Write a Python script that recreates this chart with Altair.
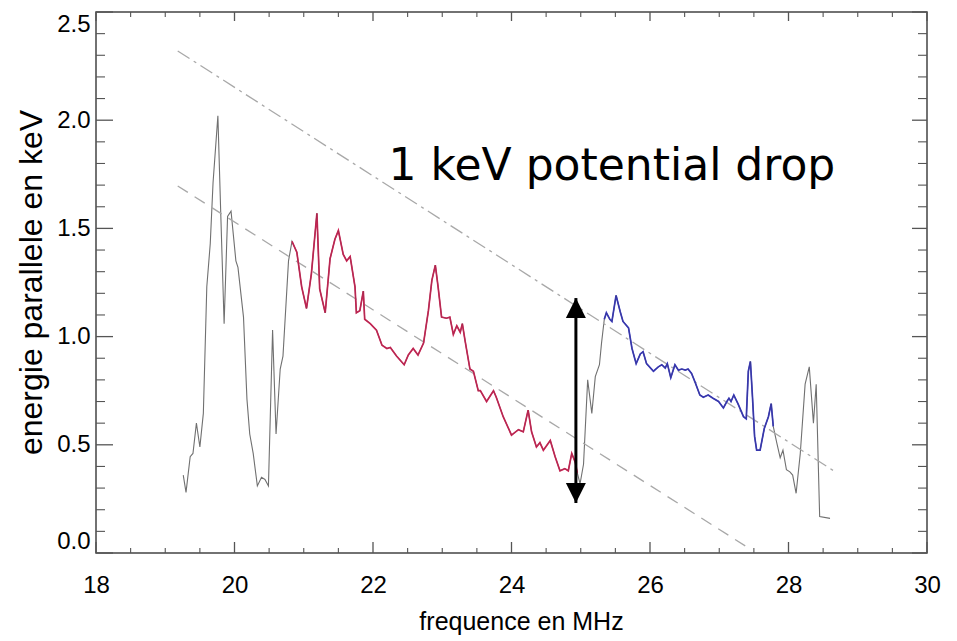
import altair as alt
import pandas as pd

# ---- main spectrum (frequency MHz, parallel energy keV) ----
freq = [19.26, 19.30, 19.36, 19.40, 19.45, 19.50, 19.55, 19.60, 19.65, 19.69,
        19.76, 19.80, 19.85, 19.90, 19.95, 20.02, 20.05, 20.13, 20.18, 20.22,
        20.27, 20.33, 20.39, 20.44, 20.49, 20.55, 20.60, 20.66, 20.70, 20.78,
        20.83, 20.90, 20.97, 21.04, 21.11, 21.19, 21.23, 21.31, 21.38, 21.45,
        21.50, 21.57, 21.62, 21.67, 21.74, 21.76, 21.81, 21.86, 21.88, 21.96,
        22.05, 22.13, 22.20, 22.25, 22.34, 22.45, 22.51, 22.58, 22.65, 22.73,
        22.80, 22.85, 22.90, 22.94, 22.99, 23.06, 23.11, 23.16, 23.21, 23.26,
        23.29, 23.33, 23.40, 23.45, 23.52, 23.55, 23.64, 23.74, 23.78, 23.88,
        24.00, 24.10, 24.17, 24.24, 24.29, 24.36, 24.41, 24.46, 24.56, 24.63,
        24.70, 24.77, 24.82, 24.87, 24.92, 24.95, 24.99, 25.04, 25.10, 25.16,
        25.21, 25.27, 25.30, 25.34, 25.37, 25.42, 25.45, 25.51, 25.57, 25.61,
        25.69, 25.74, 25.80, 25.86, 25.90, 25.95, 26.05, 26.12, 26.17, 26.22,
        26.25, 26.30, 26.36, 26.41, 26.46, 26.51, 26.55, 26.60, 26.65, 26.72,
        26.77, 26.84, 26.91, 26.99, 27.06, 27.11, 27.14, 27.17, 27.21, 27.27,
        27.35, 27.39, 27.42, 27.45, 27.48, 27.51, 27.54, 27.59, 27.65, 27.71,
        27.75, 27.78, 27.83, 27.88, 27.92, 27.97, 28.02, 28.06, 28.11, 28.17,
        28.24, 28.30, 28.36, 28.40, 28.45, 28.60]
energy = [0.36, 0.28, 0.445, 0.46, 0.60, 0.49, 0.645, 1.23, 1.43, 1.71,
          2.02, 1.585, 1.06, 1.555, 1.58, 1.35, 1.32, 1.09, 0.71, 0.55,
          0.46, 0.31, 0.35, 0.34, 0.31, 1.03, 0.55, 0.85, 0.91, 1.35,
          1.44, 1.39, 1.23, 1.13, 1.29, 1.57, 1.22, 1.11, 1.36, 1.45,
          1.49, 1.38, 1.35, 1.37, 1.23, 1.11, 1.12, 1.21, 1.08, 1.06,
          1.03, 0.96, 0.945, 0.95, 0.91, 0.87, 0.915, 0.945, 0.915, 0.97,
          1.12, 1.26, 1.33, 1.23, 1.09, 1.085, 1.09, 1.01, 1.05, 1.02,
          1.06, 0.98, 0.85, 0.84, 0.75, 0.75, 0.70, 0.75, 0.72, 0.63,
          0.545, 0.57, 0.56, 0.66, 0.56, 0.49, 0.51, 0.475, 0.52, 0.445,
          0.38, 0.39, 0.38, 0.46, 0.42, 0.37, 0.32, 0.41, 0.80, 0.645,
          0.815, 0.87, 0.97, 1.08, 1.11, 1.08, 1.07, 1.19, 1.115, 1.07,
          1.04, 0.945, 0.875, 0.92, 0.93, 0.875, 0.84, 0.86, 0.87, 0.855,
          0.875, 0.81, 0.87, 0.845, 0.85, 0.845, 0.85, 0.83, 0.79, 0.73,
          0.72, 0.73, 0.715, 0.70, 0.67, 0.70, 0.715, 0.70, 0.73, 0.69,
          0.63, 0.62, 0.84, 0.885, 0.72, 0.54, 0.475, 0.475, 0.575, 0.63,
          0.69, 0.585, 0.51, 0.44, 0.475, 0.385, 0.375, 0.36, 0.276, 0.46,
          0.78, 0.86, 0.60, 0.78, 0.168, 0.16]

red_range = [20.83, 24.95]
blue_range = [25.34, 27.78]

# ---- guide lines ----
upper_x = [19.18, 28.70]
upper_y = [2.32, 0.37]
lower_x = [19.18, 27.40]
lower_y = [1.696, 0.028]

# ---- arrow & annotation ----
arrow_x = [24.93]
arrow_bottom = [0.231]
arrow_top = [1.178]
note_x = [25.45]
note_y = [1.724]
note_text = ["1 keV potential drop"]

# ---- ticks ----
x_major = [18, 20, 22, 24, 26, 28, 30]
x_minor = [18.5, 19, 19.5, 20.5, 21, 21.5, 22.5, 23, 23.5, 24.5, 25, 25.5,
           26.5, 27, 27.5, 28.5, 29, 29.5]
y_major = [0.0, 0.5, 1.0, 1.5, 2.0, 2.5]
y_minor = [0.1, 0.2, 0.3, 0.4, 0.6, 0.7, 0.8, 0.9, 1.1, 1.2, 1.3, 1.4,
           1.6, 1.7, 1.8, 1.9, 2.1, 2.2, 2.3, 2.4]

W, H = 831, 541
FONT = "Liberation Sans"

xs = alt.Scale(domain=[18, 30], nice=False, zero=False)
ys = alt.Scale(domain=[0, 2.5], nice=False, zero=False)

x_axis = alt.Axis(values=x_major, format="d", grid=False, ticks=False, tickSize=0,
                  domain=False, labelFont=FONT, labelFontSize=24,
                  labelColor="black", labelPadding=20, labelFlush=False,
                  title="frequence en MHz", titleFont=FONT, titleFontSize=25,
                  titleFontWeight="normal", titleColor="black",
                  titleX=425, titleY=76, titleBaseline="alphabetic")
y_axis = alt.Axis(values=y_major, format=".1f", grid=False, ticks=False, tickSize=0,
                  domain=False, labelFont=FONT, labelFontSize=24,
                  labelColor="black", labelPadding=6, labelFlush=True,
                  title="energie parallele en keV", titleFont=FONT,
                  titleFontSize=32, titleFontWeight="normal", titleColor="black",
                  titleX=-55, titleY=270, titleBaseline="alphabetic",
                  titleAlign="center", titleAngle=270)

X = alt.X("x:Q", scale=xs, axis=x_axis)
Y = alt.Y("y:Q", scale=ys, axis=y_axis)

spec = pd.DataFrame({"x": freq, "y": energy})
red = spec[(spec.x >= red_range[0]) & (spec.x <= red_range[1])]
blue = spec[(spec.x >= blue_range[0]) & (spec.x <= blue_range[1])]

upper = pd.DataFrame({"x": upper_x, "y": upper_y})
lower = pd.DataFrame({"x": lower_x, "y": lower_y})

guide_u = alt.Chart(upper).mark_line(color="#a8a8a8", strokeWidth=1.3,
                                     strokeDash=[14, 5, 3, 5]).encode(x=X, y=Y)
guide_l = alt.Chart(lower).mark_line(color="#a8a8a8", strokeWidth=1.3,
                                     strokeDash=[12, 8]).encode(x=X, y=Y)

base_line = alt.Chart(spec).mark_line(color="#707070", strokeWidth=1.1).encode(x=X, y=Y)
red_line = alt.Chart(red).mark_line(color="#d42558", strokeWidth=1.7).encode(x=X, y=Y)
blue_line = alt.Chart(blue).mark_line(color="#3a3ac8", strokeWidth=1.7).encode(x=X, y=Y)
dark_red = alt.Chart(red).mark_line(color="#333333", strokeWidth=0.6, opacity=0.35).encode(x=X, y=Y)
dark_blue = alt.Chart(blue).mark_line(color="#333333", strokeWidth=0.6, opacity=0.45).encode(x=X, y=Y)

arrow_df = pd.DataFrame({"x": arrow_x, "y": arrow_bottom, "y2": arrow_top})
shaft = alt.Chart(arrow_df).mark_rule(color="black", strokeWidth=3).encode(
    x=X, y=Y, y2="y2:Q")
head_up = alt.Chart(pd.DataFrame({"x": arrow_x, "y": arrow_top})).mark_point(
    shape="M0,0L-1,2L1,2Z", filled=True, size=400, color="black", opacity=1,
    strokeWidth=0).encode(x=X, y=Y)
head_down = alt.Chart(pd.DataFrame({"x": arrow_x, "y": arrow_bottom})).mark_point(
    shape="M0,0L-1,-2L1,-2Z", filled=True, size=400, color="black", opacity=1,
    strokeWidth=0).encode(x=X, y=Y)

note = alt.Chart(pd.DataFrame({"x": note_x, "y": note_y, "t": note_text})).mark_text(
    font="DejaVu Sans", fontSize=44, align="center", baseline="alphabetic",
    color="black").encode(x=X, y=Y, text="t:N")

# inward ticks on all four sides
TICK = "#555555"
ymaj = pd.DataFrame({"y": y_major})
ymin = pd.DataFrame({"y": y_minor})
xmaj = pd.DataFrame({"x": x_major})
xmin = pd.DataFrame({"x": x_minor})
ticks = [
    alt.Chart(ymaj).mark_rule(color=TICK, strokeWidth=1.3).encode(y=Y, x=alt.value(0), x2=alt.value(17)),
    alt.Chart(ymin).mark_rule(color=TICK, strokeWidth=1.1).encode(y=Y, x=alt.value(0), x2=alt.value(9)),
    alt.Chart(ymaj).mark_rule(color=TICK, strokeWidth=1.3).encode(y=Y, x=alt.value(W), x2=alt.value(W - 15)),
    alt.Chart(ymin).mark_rule(color=TICK, strokeWidth=1.1).encode(y=Y, x=alt.value(W), x2=alt.value(W - 9)),
    alt.Chart(xmaj).mark_rule(color=TICK, strokeWidth=1.3).encode(x=X, y=alt.value(H), y2=alt.value(H - 11)),
    alt.Chart(xmin).mark_rule(color=TICK, strokeWidth=1.1).encode(x=X, y=alt.value(H), y2=alt.value(H - 5)),
    alt.Chart(xmaj).mark_rule(color=TICK, strokeWidth=1.3).encode(x=X, y=alt.value(0), y2=alt.value(9)),
    alt.Chart(xmin).mark_rule(color=TICK, strokeWidth=1.1).encode(x=X, y=alt.value(0), y2=alt.value(5)),
]

chart = alt.layer(
    base_line, guide_u, guide_l, red_line, dark_red, blue_line, dark_blue,
    shaft, head_up, head_down, note, *ticks
).properties(
    width=W, height=H,
    autosize=alt.AutoSizeParams(type="none"),
    padding={"left": 88, "top": 4, "right": 20, "bottom": 85},
    background="white",
).configure_view(stroke="#444444", strokeWidth=1.5)

chart.save("out.html", embed_options={"renderer": "svg", "actions": False})
